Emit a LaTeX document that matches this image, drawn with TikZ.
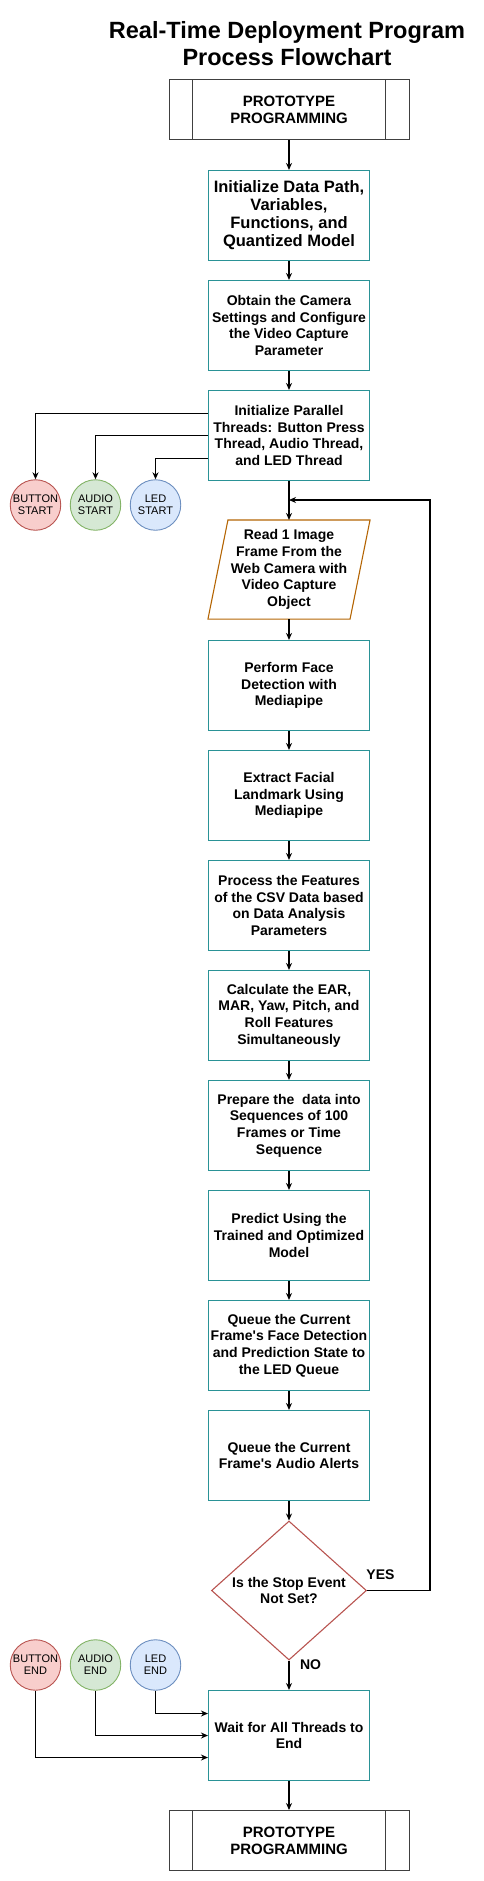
\documentclass[tikz,border=0pt]{standalone}
\usepackage{fontspec}
\setmainfont{Liberation Sans}
\usetikzlibrary{shapes.geometric,arrows.meta}
\definecolor{tealline}{HTML}{2A9296}
\definecolor{orangeline}{HTML}{B46504}
\definecolor{redline}{HTML}{B85450}
\definecolor{redfill}{HTML}{F8CECC}
\definecolor{greenline}{HTML}{82B366}
\definecolor{greenfill}{HTML}{D5E8D4}
\definecolor{blueline}{HTML}{6C8EBF}
\definecolor{bluefill}{HTML}{DAE8FC}

\begin{document}
\begin{tikzpicture}[x=1pt, y=-1pt, node distance={110pt}, line width=1.1pt,
  main/.style = {draw=tealline, minimum width=161pt, minimum height=90pt, inner sep=1pt, align=center, font=\fontsize{14}{16.7}\selectfont\bfseries},
  proto/.style = {draw=black!75, line width=1pt, minimum width=240pt, minimum height=60pt, align=center, font=\fontsize{15}{16.7}\selectfont\bfseries},
  thread/.style = {draw, circle, minimum size=50.5pt, inner sep=0pt, align=center, line width=0.9pt, font=\fontsize{11}{12}\selectfont},
  lbl/.style = {font=\fontsize{14}{16}\selectfont\bfseries},
  arr/.style = {-{Stealth[length=7pt,width=6pt]}, black}]
\useasboundingbox (0,0) rectangle (484,1881);
\node[font=\fontsize{23.5}{27}\selectfont\bfseries, align=center] (title) at (287,44) {Real-Time Deployment Program\\Process Flowchart};
\node[proto] (0) at (289,110) {PROTOTYPE\\PROGRAMMING};
\node[main, font=\fontsize{16.5}{18}\selectfont\bfseries] (1) at (289,215.5) {Initialize Data Path,\\Variables,\\Functions, and\\Quantized Model};
\node[main] (2) [below of=1] {Obtain the Camera\\Settings and Configure\\the Video Capture\\Parameter};
\node[main] (3) [below of=2] {Initialize Parallel\\Threads: Button Press\\Thread, Audio Thread,\\and LED Thread};
\node[align=center, minimum width=161pt, minimum height=98pt, inner sep=0pt, font=\fontsize{14}{16.7}\selectfont\bfseries] (4) [node distance=134pt, below of=3] {Read 1 Image\\Frame From the\\Web Camera with\\Video Capture\\Object};
\node[main] (5) [node distance=116pt, below of=4] {Perform Face\\Detection with\\Mediapipe};
\node[main] (6) [below of=5] {Extract Facial\\Landmark Using\\Mediapipe};
\node[main] (7) [below of=6] {Process the Features\\of the CSV Data based\\on Data Analysis\\Parameters};
\node[main] (8) [below of=7] {Calculate the EAR,\\MAR, Yaw, Pitch, and\\Roll Features\\Simultaneously};
\node[main] (9) [below of=8] {Prepare the\ \ data into\\Sequences of 100\\Frames or Time\\Sequence};
\node[main] (10) [below of=9] {Predict Using the\\Trained and Optimized\\Model};
\node[main] (11) [below of=10] {Queue the Current\\Frame\textquotesingle s Face Detection\\and Prediction State to\\the LED Queue};
\node[main] (12) [below of=11] {Queue the Current\\Frame\textquotesingle s Audio Alerts};
\node[draw=redline, diamond, aspect=1.1, minimum width=155pt, minimum height=139pt, inner sep=0pt, align=center, font=\fontsize{14}{16.7}\selectfont\bfseries] (13) [node distance=135pt, below of=12] {Is the Stop Event\\Not Set?};
\node[main] (14) [node distance=145pt, below of=13] {Wait for All Threads to\\End};
\node[proto] (15) [node distance=105pt, below of=14] {PROTOTYPE\\PROGRAMMING};

\node[thread, draw=redline, fill=redfill] (bstart) at (35.5,505) {BUTTON\\START};
\node[thread, draw=greenline, fill=greenfill] (astart) [right of=bstart, node distance=60pt] {AUDIO\\START};
\node[thread, draw=blueline, fill=bluefill] (lstart) [right of=astart, node distance=60pt] {LED\\START};
\node[thread, draw=redline, fill=redfill] (bend) at (35.5,1665) {BUTTON\\END};
\node[thread, draw=greenline, fill=greenfill] (aend) [right of=bend, node distance=60pt] {AUDIO\\END};
\node[thread, draw=blueline, fill=bluefill] (lend) [right of=aend, node distance=60pt] {LED\\END};

\node[lbl] (yes) at (380.5,1575) {YES};
\node[lbl] (no) at (310.5,1665) {NO};
\coordinate (loop) at (430,500);

% side bars of the two process boxes
\foreach \s in {0,15} {
  \draw[black!75, line width=1pt] ([xshift=24pt]\s.north west) -- ([xshift=24pt]\s.south west);
  \draw[black!75, line width=1pt] ([xshift=-24pt]\s.north east) -- ([xshift=-24pt]\s.south east);
}
\draw[orangeline] ([xshift=20pt]4.north west) -- (4.north east) -- ([xshift=-20pt]4.south east) -- (4.south west) -- cycle;

\foreach \i/\j in {0/1,1/2,2/3,3/4,4/5,5/6,6/7,7/8,8/9,9/10,10/11,11/12,12/13,13/14,14/15}
  \draw[arr] (\i) -- (\j);
\draw[arr] (13.east) -| (loop) -- (loop -| 4);

\draw[arr] ([yshift=22pt]3.west) -| (bstart);
\draw[arr] (3.west) -| (astart);
\draw[arr] ([yshift=-23pt]3.west) -| (lstart);

\draw[arr] (lend) |- ([yshift=22pt]14.west);
\draw[arr] (aend) |- (14.west);
\draw[arr] (bend) |- ([yshift=-22pt]14.west);
\end{tikzpicture}
\end{document}
